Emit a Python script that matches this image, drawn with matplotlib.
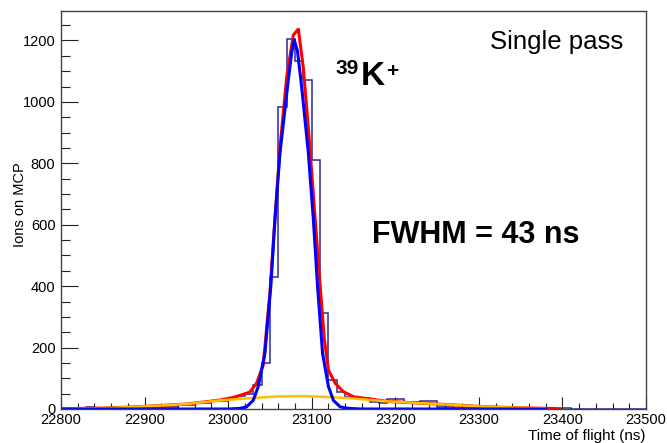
# ---------- IMPORT ------------
import numpy as np
import matplotlib
matplotlib.use("Agg")
import matplotlib.pyplot as plt
from matplotlib.ticker import MultipleLocator
# ------------------------------


# ---------- DATA --------------
# histogram: 10 ns bins from 22800 to 23500
bin_edges = np.arange(22800, 23501, 10)
counts = [0, 2, 0, 5, 3, 2, 5, 4, 2, 4,
          3, 6, 8, 8, 13, 14, 18, 19, 26, 27,
          37, 43, 49, 78, 151, 429, 985, 1204, 1134, 1072,
          811, 312, 94, 56, 40, 36, 35, 24, 19, 33,
          33, 22, 22, 26, 26, 8, 5, 3, 2, 3,
          1, 2, 1, 0, 1, 0, 2, 0, 0, 1,
          2, 0, 1, 0, 0, 1, 0, 1, 0, 0]

# total fit (red)
red_x = [22800, 22850, 22880, 22910, 22950, 22990, 23005, 23015, 23026, 23034, 23042, 23050,
         23056, 23062, 23070, 23078, 23084, 23090, 23097, 23103, 23109, 23115, 23120,
         23128, 23138, 23150, 23190, 23230, 23265, 23310, 23350, 23380, 23397]
red_y = [1, 3, 6, 10, 16, 29, 37, 45, 55, 84, 143, 380,
         620, 850, 1080, 1218, 1237, 1110, 880, 660, 440, 230, 127,
         84, 56, 40, 25, 19, 14, 7, 4, 2, 1]

# broad component (yellow)
yel_x = [22800, 22850, 22880, 22910, 22950, 22990, 23030, 23060, 23090, 23120,
         23150, 23190, 23230, 23265, 23310, 23350, 23380]
yel_y = [1, 3, 6, 10, 16, 28, 36, 41, 42, 39,
         34, 25, 19, 14, 7, 4, 2]

# narrow component (blue)
blu_x = [22800, 23000, 23014, 23022, 23030, 23036, 23044, 23051, 23056, 23062, 23071,
         23076, 23079, 23083, 23088, 23096, 23102, 23107, 23113, 23120, 23126, 23134,
         23144, 23160, 23380]
blu_y = [0, 0, 2, 7, 28, 73, 181, 398, 616, 833, 1048,
         1160, 1202, 1165, 1048, 833, 616, 398, 181, 73, 28, 7,
         2, 0, 0]
# ------------------------------


# ---------- CONFIG ------------
plt.rcParams['font.family'] = ['Liberation Sans', 'DejaVu Sans']
W, H = 667, 443
# ------------------------------

fig = plt.figure(figsize=(W / 100, H / 100), dpi=100)
ax = fig.add_axes([61 / W, 1 - 409 / H, (646 - 61) / W, (409 - 11) / H])

ax.stairs(counts, bin_edges, color="#2a2aa0", lw=1.1)
ax.plot(red_x, red_y, color="#ff0000", lw=2.2)
ax.plot(yel_x, yel_y, color="#ffc000", lw=1.8)
ax.plot(blu_x, blu_y, color="#0000ff", lw=2.2)

ax.set_xlim(22800, 23500)
ax.set_ylim(0, 1296)

ax.xaxis.set_major_locator(MultipleLocator(100))
ax.xaxis.set_minor_locator(MultipleLocator(20))
ax.yaxis.set_major_locator(MultipleLocator(200))
ax.yaxis.set_minor_locator(MultipleLocator(50))
ax.tick_params(axis="x", which="major", direction="in", length=8.6, width=0.8, pad=3,
               labelsize=10.5, color="#222222")
ax.tick_params(axis="x", which="minor", direction="in", length=4.3, width=0.8, color="#222222")
ax.tick_params(axis="y", which="major", direction="in", length=12.5, width=0.8, pad=4,
               labelsize=10.5, color="#222222")
ax.tick_params(axis="y", which="minor", direction="in", length=6.3, width=0.8, color="#222222")
for s in ax.spines.values():
    s.set_color("#444444")
    s.set_linewidth(1.0)

fig.text(20 / W, 1 - 205 / H, "Ions on MCP", rotation=90, ha="center", va="center", fontsize=10.5)
fig.text(646 / W, 1 - 440 / H, "Time of flight (ns)", ha="right", va="baseline", fontsize=11)

fig.text(490 / W, 1 - 49 / H, "Single pass", ha="left", va="baseline", fontsize=18.5)
fig.text(336 / W, 1 - 73.5 / H, "39", ha="left", va="baseline", fontsize=15, fontweight="bold")
fig.text(361 / W, 1 - 85 / H, "K", ha="left", va="baseline", fontsize=24, fontweight="bold")
fig.text(386 / W, 1 - 77 / H, "+", ha="left", va="baseline", fontsize=15, fontweight="bold")
fig.text(372 / W, 1 - 243 / H, "FWHM = 43 ns", ha="left", va="baseline", fontsize=22, fontweight="bold")

fig.savefig("out.png", dpi=100)
